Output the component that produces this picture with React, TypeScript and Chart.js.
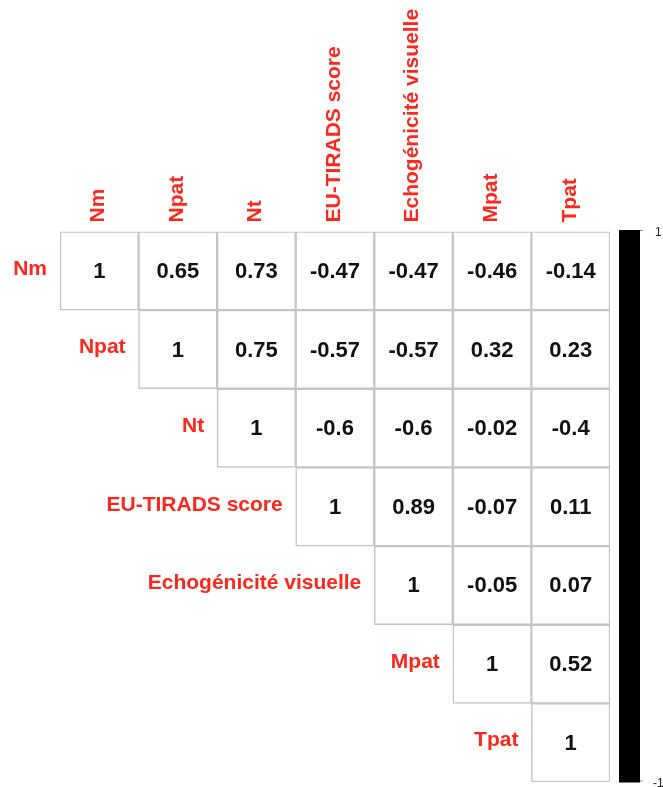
import React, { useEffect, useRef } from "react";
import { Chart, registerables } from "chart.js";

Chart.register(...registerables);

const variables = ["Nm", "Npat", "Nt", "EU-TIRADS score", "Echogénicité visuelle", "Mpat", "Tpat"];

// upper-triangle correlation rows (starting at the diagonal)
const rowNm = [1, 0.65, 0.73, -0.47, -0.47, -0.46, -0.14];
const rowNpat = [1, 0.75, -0.57, -0.57, 0.32, 0.23];
const rowNt = [1, -0.6, -0.6, -0.02, -0.4];
const rowEu = [1, 0.89, -0.07, 0.11];
const rowEcho = [1, -0.05, 0.07];
const rowMpat = [1, 0.52];
const rowTpat = [1];

const colorbarTicks = [1, -1];

const rows = [rowNm, rowNpat, rowNt, rowEu, rowEcho, rowMpat, rowTpat];
// full matrix value lookup (null below the diagonal)
const matrix: (number | null)[][] = rows.map((r, i) =>
  variables.map((_, j) => (j >= i ? r[j - i] : null))
);

const FONT = '"Liberation Sans", Arial, Helvetica, sans-serif';
const RED = "rgb(255, 38, 28)";

const cellPlugin = {
  id: "cellText",
  afterDatasetsDraw(chart: any) {
    const ctx = chart.ctx;
    const xs = chart.scales.x;
    const area = chart.chartArea;
    ctx.save();
    // column labels (rotated)
    ctx.fillStyle = RED;
    ctx.font = `bold 21px ${FONT}`;
    ctx.textAlign = "left";
    ctx.textBaseline = "middle";
    variables.forEach((name, j) => {
      const x = xs.getPixelForTick(j);
      ctx.save();
      ctx.translate(x - 1, area.top - 9);
      ctx.rotate(-Math.PI / 2);
      ctx.fillText(name, 0, 0);
      ctx.restore();
    });
    chart.data.datasets.forEach((_: any, i: number) => {
      const meta = chart.getDatasetMeta(i);
      meta.data.forEach((el: any, j: number) => {
        const v = matrix[i][j];
        if (v == null) return;
        const p = el.getProps(["x", "y", "base", "width"], true);
        const cy = (p.y + p.base) / 2;
        ctx.fillStyle = "#111";
        ctx.font = `bold 22px ${FONT}`;
        ctx.textAlign = "center";
        ctx.textBaseline = "middle";
        ctx.fillText(String(v), p.x, cy + 1);
        if (j === i) {
          ctx.fillStyle = RED;
          ctx.font = `bold 21px ${FONT}`;
          ctx.textAlign = "right";
          ctx.fillText(variables[i], p.x - p.width / 2 - 13, cy - 2);
        }
      });
    });
    ctx.restore();
  },
  afterDraw(chart: any) {
    const ctx = chart.ctx;
    const cb = chart.scales.cb;
    const area = chart.chartArea;
    const top = cb.getPixelForValue(colorbarTicks[0]);
    const bottom = cb.getPixelForValue(colorbarTicks[1]);
    const x0 = area.right + 9;
    const x1 = area.right + 30;
    ctx.save();
    ctx.fillStyle = "#000";
    ctx.fillRect(x0, top - 1.5, x1 - x0, bottom - top + 2);
    ctx.strokeStyle = "#888";
    ctx.lineWidth = 1;
    colorbarTicks.forEach((t) => {
      const y = cb.getPixelForValue(t);
      ctx.beginPath();
      ctx.moveTo(x1, y - 1);
      ctx.lineTo(x1 + 3, y - 1);
      ctx.stroke();
    });
    ctx.fillStyle = "#222";
    ctx.font = `12px ${FONT}`;
    ctx.textAlign = "left";
    ctx.textBaseline = "middle";
    ctx.fillText(String(colorbarTicks[0]), x1 + 15, top + 1);
    ctx.fillText(String(colorbarTicks[1]), x1 + 13, bottom + 2);
    ctx.restore();
  },
};

export default function App() {
  const ref = useRef<HTMLCanvasElement>(null);
  useEffect(() => {
    if (!ref.current) return;
    const datasets = rows.map((_, i) => ({
      label: variables[i],
      data: variables.map((_, j) => (j >= i ? [i, i + 1] : null)),
      backgroundColor: "#ffffff",
      borderColor: "#c4c4c4",
      borderWidth: 1.5,
      borderSkipped: false,
      grouped: false,
      barPercentage: 1,
      categoryPercentage: 1,
    }));
    const chart = new Chart(ref.current, {
      type: "bar",
      data: { labels: variables, datasets: datasets as any },
      options: {
        animation: false,
        responsive: false,
        devicePixelRatio: 1,
        layout: { padding: { left: 60, right: 53, top: 0, bottom: 5 } },
        plugins: { legend: { display: false }, tooltip: { enabled: false } },
        scales: {
          x: {
            type: "category",
            position: "top",
            offset: true,
            grid: { display: false },
            border: { display: false },
            ticks: { display: false },
            afterFit: (scale: any) => {
              scale.height = 231.5;
            },
          },
          y: {
            type: "linear",
            min: 0,
            max: variables.length,
            reverse: true,
            display: false,
          },
          cb: {
            type: "linear",
            min: -1,
            max: 1,
            display: false,
            position: "right",
          },
        },
      },
      plugins: [cellPlugin],
    });
    return () => chart.destroy();
  }, []);
  return (
    <div style={{ position: "absolute", left: 0, top: 0, width: 663, height: 787 }}>
      <canvas ref={ref} width={663} height={787} style={{ display: "block" }} />
    </div>
  );
}
